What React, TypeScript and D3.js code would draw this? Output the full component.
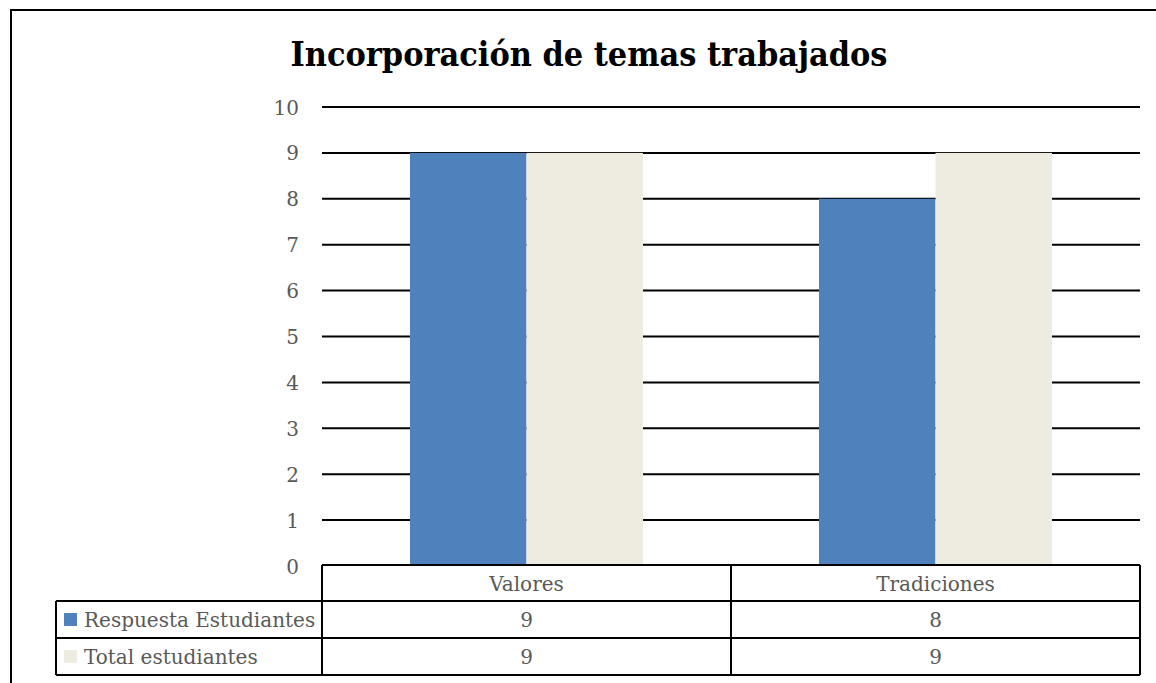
import React from "react";
import * as d3 from "d3";

const categories = ["Valores", "Tradiciones"];
const seriesNames = ["Respuesta Estudiantes", "Total estudiantes"];
const respuesta = [9, 8];
const total = [9, 9];
const seriesColors = ["#4F81BD", "#EEECE1"];
const yTicks = [0, 1, 2, 3, 4, 5, 6, 7, 8, 9, 10];
const title = "Incorporación de temas trabajados";

const W = 1156;
const H = 683;
const FONT = "'DejaVu Serif', 'Liberation Serif', serif";
const GRAY = "#595959";
const FS = 20;

export default function App() {
  const left = 322, right = 1140, top = 107, bottom = 566;
  const y = d3.scaleLinear().domain([0, 10]).range([bottom, top]);
  const x0 = d3.scaleBand().domain(categories).range([left, right]).paddingInner(0).paddingOuter(0);
  const seriesData = [respuesta, total];
  const groupFrac = 233 / 409;
  const barW = (x0.bandwidth() * groupFrac) / 2;
  const rowTops = [565, 601, 638, 675];
  const legendLeft = 56;

  return (
    <svg width={W} height={H} style={{ position: "absolute", left: 0, top: 0 }}>
      <rect x={0} y={0} width={W} height={H} fill="#fff" />
      <rect x={11} y={10} width={W + 20} height={H + 20} fill="none" stroke="#000" strokeWidth={2} />
      <text x={589} y={66} textAnchor="middle" fontFamily={FONT} fontWeight="bold" fontSize={34}
        textLength={597} lengthAdjust="spacingAndGlyphs" fill="#000">{title}</text>
      {yTicks.map((t) => (
        <g key={t}>
          {t > 0 && <line x1={left} x2={right} y1={y(t)} y2={y(t)} stroke="#000" strokeWidth={2} />}
          <text x={299} y={y(t) + 7.5} textAnchor="end" fontFamily={FONT} fontSize={FS} fill={GRAY}>{t}</text>
        </g>
      ))}
      {categories.map((c, i) => {
        const cx = (x0(c) as number) + x0.bandwidth() / 2;
        return seriesData.map((s, j) => (
          <rect key={c + j} x={cx - barW + j * barW} y={y(s[i])} width={barW} height={y(0) - y(s[i])}
            fill={seriesColors[j]} />
        ));
      })}
      {/* table */}
      <g stroke="#000" strokeWidth={2} fill="none">
        <line x1={left} x2={right} y1={rowTops[0]} y2={rowTops[0]} />
        {[1, 2, 3].map((r) => (
          <line key={r} x1={legendLeft} x2={right} y1={rowTops[r]} y2={rowTops[r]} />
        ))}
        <line x1={legendLeft} x2={legendLeft} y1={rowTops[1]} y2={rowTops[3]} />
        {[left, left + x0.bandwidth(), right].map((xx, k) => (
          <line key={k} x1={xx} x2={xx} y1={rowTops[0]} y2={rowTops[3]} />
        ))}
      </g>
      {categories.map((c) => (
        <text key={c} x={(x0(c) as number) + x0.bandwidth() / 2} y={rowTops[0] + 26} textAnchor="middle"
          fontFamily={FONT} fontSize={FS} fill={GRAY}>{c}</text>
      ))}
      {seriesNames.map((n, j) => (
        <g key={n}>
          <rect x={64} y={rowTops[j + 1] + 12} width={13} height={13} fill={seriesColors[j]} />
          <text x={84} y={rowTops[j + 1] + 26} fontFamily={FONT} fontSize={FS} fill={GRAY}>{n}</text>
          {categories.map((c, i) => (
            <text key={c} x={(x0(c) as number) + x0.bandwidth() / 2} y={rowTops[j + 1] + 26} textAnchor="middle"
              fontFamily={FONT} fontSize={FS} fill={GRAY}>{seriesData[j][i]}</text>
          ))}
        </g>
      ))}
    </svg>
  );
}
